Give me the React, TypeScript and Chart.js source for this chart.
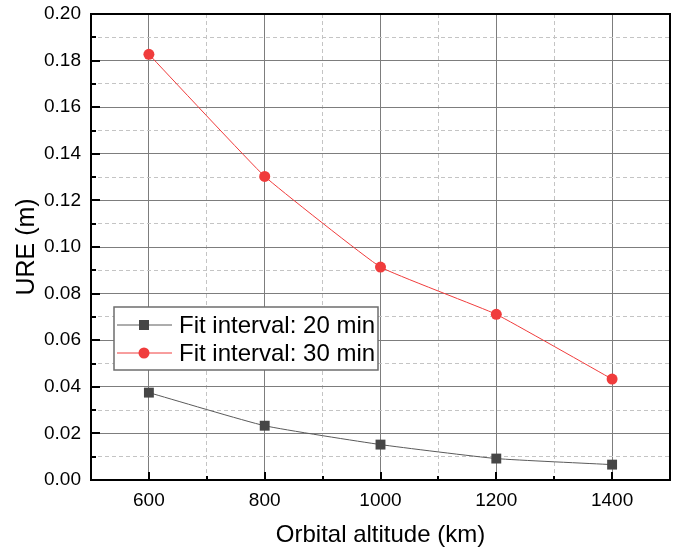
import React, { useEffect, useRef } from "react";
import { Chart, registerables } from "chart.js";

Chart.register(...registerables);

const altitudes = [600, 800, 1000, 1200, 1400];
const ure20 = [0.0375, 0.0233, 0.0152, 0.0092, 0.0066];
const ure30 = [0.1827, 0.1303, 0.0914, 0.0711, 0.0433];
const seriesLabels = ["Fit interval: 20 min", "Fit interval: 30 min"];
const xTitle = "Orbital altitude (km)";
const yTitle = "URE (m)";

const FONT = "'Liberation Sans', Arial, sans-serif";
const MAJOR_GRID = "#7d7d7d";
const MINOR_GRID = "#c4c4c4";

const isMajorX = (v: number) => Math.round(v) % 200 === 0;
const isMajorY = (v: number) => Math.round(v * 100) % 2 === 0;

const zeroPad = (s: any) => {
  s.paddingTop = 0;
  s.paddingBottom = 0;
  s.paddingLeft = 0;
  s.paddingRight = 0;
};

const framePlugin = {
  id: "frameAndTicks",
  afterDraw(chart: any) {
    const { ctx, chartArea: a, scales } = chart;
    ctx.save();
    ctx.strokeStyle = "#000";
    ctx.lineWidth = 2;
    ctx.setLineDash([]);
    ctx.strokeRect(a.left, a.top, a.right - a.left, a.bottom - a.top);
    scales.x.ticks.forEach((t: any) => {
      const px = Math.round(scales.x.getPixelForValue(t.value));
      const len = isMajorX(t.value) ? 8 : 4;
      ctx.beginPath();
      ctx.moveTo(px, a.bottom);
      ctx.lineTo(px, a.bottom - len);
      ctx.stroke();
    });
    scales.y.ticks.forEach((t: any) => {
      const py = Math.round(scales.y.getPixelForValue(t.value));
      const len = isMajorY(t.value) ? 9 : 5;
      ctx.beginPath();
      ctx.moveTo(a.left, py);
      ctx.lineTo(a.left + len, py);
      ctx.stroke();
    });
    ctx.restore();
  },
};

const legendPlugin = {
  id: "insideLegend",
  afterDraw(chart: any) {
    const { ctx, chartArea: a } = chart;
    const ds = chart.data.datasets;
    const x0 = a.left + 23;
    const y0 = a.top + 293;
    const w = 264;
    const rowH = 28;
    const h = 63;
    ctx.save();
    ctx.fillStyle = "#fff";
    ctx.fillRect(x0, y0, w, h);
    ctx.strokeStyle = "#6e6e6e";
    ctx.lineWidth = 1.5;
    ctx.strokeRect(x0, y0, w, h);
    ctx.font = `24px ${FONT}`;
    ctx.textBaseline = "middle";
    ds.forEach((d: any, i: number) => {
      const cy = y0 + 18 + i * rowH;
      ctx.strokeStyle = d.borderColor;
      ctx.lineWidth = 1;
      ctx.beginPath();
      ctx.moveTo(x0 + 3, cy);
      ctx.lineTo(x0 + 58, cy);
      ctx.stroke();
      const mx = x0 + 30;
      ctx.fillStyle = d.pointBackgroundColor;
      if (d.pointStyle === "rect") {
        ctx.fillRect(mx - 5, cy - 5, 10, 10);
      } else {
        ctx.beginPath();
        ctx.arc(mx, cy, 5.5, 0, Math.PI * 2);
        ctx.fill();
      }
      ctx.fillStyle = "#000";
      ctx.fillText(d.label, x0 + 65, cy + 1);
    });
    ctx.restore();
  },
};

export default function App() {
  const ref = useRef<HTMLCanvasElement>(null);
  useEffect(() => {
    if (!ref.current) return;
    const chart = new Chart(ref.current, {
      type: "line",
      data: {
        datasets: [
          {
            label: seriesLabels[0],
            data: altitudes.map((x, i) => ({ x, y: ure20[i] })),
            borderColor: "#5a5a5a",
            backgroundColor: "#464646",
            pointBackgroundColor: "#464646",
            pointBorderColor: "#464646",
            pointStyle: "rect",
            pointRadius: 7,
            pointBorderWidth: 0,
            borderWidth: 1,
            tension: 0.15,
          },
          {
            label: seriesLabels[1],
            data: altitudes.map((x, i) => ({ x, y: ure30[i] })),
            borderColor: "#f03c3c",
            backgroundColor: "#f03c3c",
            pointBackgroundColor: "#f03c3c",
            pointBorderColor: "#f03c3c",
            pointStyle: "circle",
            pointRadius: 5.5,
            pointBorderWidth: 0,
            borderWidth: 1,
            tension: 0.1,
          },
        ],
      },
      options: {
        responsive: false,
        animation: false,
        layout: { padding: { top: 14, right: 6, left: 0, bottom: 0 } },
        plugins: { legend: { display: false }, tooltip: { enabled: false } },
        scales: {
          x: {
            type: "linear",
            min: 500,
            max: 1500,
            afterFit: (s: any) => {
              s.height = 71;
              zeroPad(s);
            },
            ticks: {
              stepSize: 100,
              autoSkip: false,
              maxRotation: 0,
              padding: 9,
              color: "#000",
              font: { family: FONT, size: 19 },
              callback: (v: any) => {
                const n = Number(v);
                return isMajorX(n) && n >= 600 && n <= 1400 ? String(n) : "";
              },
            },
            grid: {
              drawTicks: false,
              color: (c: any) => (isMajorX(c.tick.value) ? MAJOR_GRID : MINOR_GRID),
              lineWidth: 1,
            },
            border: {
              display: false,
              dash: (c: any) => (isMajorX(c.tick.value) ? [] : [4, 3]),
            },
            title: {
              display: true,
              text: xTitle,
              color: "#000",
              font: { family: FONT, size: 24 },
              padding: { top: 0, bottom: 1 },
            },
          },
          y: {
            type: "linear",
            min: 0,
            max: 0.2,
            afterFit: (s: any) => {
              s.width = 91;
              zeroPad(s);
            },
            ticks: {
              stepSize: 0.01,
              autoSkip: false,
              padding: 10,
              color: "#000",
              font: { family: FONT, size: 19 },
              callback: (v: any) => {
                const n = Number(v);
                return isMajorY(n) ? n.toFixed(2) : "";
              },
            },
            grid: {
              drawTicks: false,
              color: (c: any) => (isMajorY(c.tick.value) ? MAJOR_GRID : MINOR_GRID),
              lineWidth: 1,
            },
            border: {
              display: false,
              dash: (c: any) => (isMajorY(c.tick.value) ? [] : [4, 3]),
            },
            title: {
              display: true,
              text: yTitle,
              color: "#000",
              font: { family: FONT, size: 25 },
              padding: { top: 12, bottom: 0 },
            },
          },
        },
      },
      plugins: [framePlugin, legendPlugin],
    } as any);
    return () => chart.destroy();
  }, []);
  return (
    <canvas
      ref={ref}
      width={677}
      height={551}
      style={{ position: "absolute", left: 0, top: 0, display: "block" }}
    />
  );
}
